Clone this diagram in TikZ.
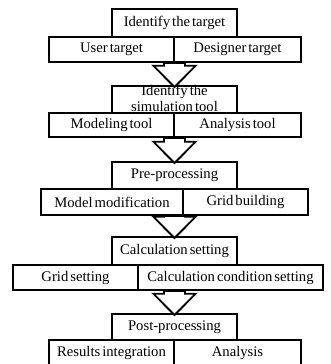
\documentclass[tikz,border=0pt]{standalone}
\usepackage{fontspec}
\setmainfont[WordSpace=0.55]{Liberation Serif}
\usetikzlibrary{calc}
\tikzset{
  cell/.style={draw, line width=1.4pt, rectangle, inner sep=0pt, font=\fontsize{11pt}{11.5pt}\selectfont, align=center},
  blockarrow/.style={draw, fill=white, line width=1.4pt, line join=miter}
}
\newcommand{\flowarrow}[3]{% #1 row node (bottom), #2 centre node, #3 target node
  \path[blockarrow] let \p1=($(#1.south)$), \p2=($(#2.center)$), \p3=($(#3.north)$) in
    (\x2-7.9pt,\y1) -- (\x2-7.9pt,\y3+14.5pt) -- (\x2-15.8pt,\y3+14.5pt) -- (\x2,\y3-1.5pt)
    -- (\x2+15.8pt,\y3+14.5pt) -- (\x2+7.9pt,\y3+14.5pt) -- (\x2+7.9pt,\y1) -- cycle;
}
\begin{document}
\begin{tikzpicture}[x=0.75pt,y=-0.75pt]
\useasboundingbox (0,0) rectangle (330,364);
% level 1
\node[cell, minimum width=125*0.75pt, minimum height=28*0.75pt] (b1) at (174.5,23) {Identify the target};
\node[cell, minimum width=125*0.75pt, minimum height=25*0.75pt] (r1a) at (111.5,49.5) {User target};
\node[cell, minimum width=127*0.75pt, minimum height=25*0.75pt] (r1b) at (237.5,49.5) {Designer target};
% level 2
\node[cell, minimum width=125*0.75pt, minimum height=27*0.75pt] (b2) at (174.5,99.5) {};
\node (b2t) at (174.5,98.5) [font=\fontsize{11pt}{11.5pt}\selectfont, align=center, inner sep=0pt] {Identify the\\simulation tool};
\node[cell, minimum width=125*0.75pt, minimum height=24*0.75pt] (r2a) at (111.5,125) {Modeling tool};
\node[cell, minimum width=127*0.75pt, minimum height=24*0.75pt] (r2b) at (237.5,125) {Analysis tool};
% level 3
\node[cell, minimum width=125*0.75pt, minimum height=27*0.75pt] (b3) at (174.5,175.5) {Pre-processing};
\node[cell, minimum width=142*0.75pt, minimum height=26*0.75pt] (r3a) at (112,202) {Model modification};
\node[cell, minimum width=125*0.75pt, minimum height=26*0.75pt] (r3b) at (245.5,202) {Grid building};
% level 4
\node[cell, minimum width=125*0.75pt, minimum height=28*0.75pt] (b4) at (174.5,251) {Calculation setting};
\node[cell, minimum width=125*0.75pt, minimum height=25*0.75pt] (r4a) at (75.5,277.5) {Grid setting};
\node[cell, minimum width=185*0.75pt, minimum height=25*0.75pt] (r4b) at (230.5,277.5) {Calculation condition setting};
% level 5
\node[cell, minimum width=125*0.75pt, minimum height=26*0.75pt] (b5) at (174.5,327) {Post-processing};
\node[cell, minimum width=125*0.75pt, minimum height=26*0.75pt] (r5a) at (111.5,353) {Results integration};
\node[cell, minimum width=127*0.75pt, minimum height=26*0.75pt] (r5b) at (237.5,353) {Analysis};
% arrows
\flowarrow{r1a}{b1}{b2}
\flowarrow{r2a}{b2}{b3}
\flowarrow{r3a}{b3}{b4}
\flowarrow{r4a}{b4}{b5}
\end{tikzpicture}
\end{document}
